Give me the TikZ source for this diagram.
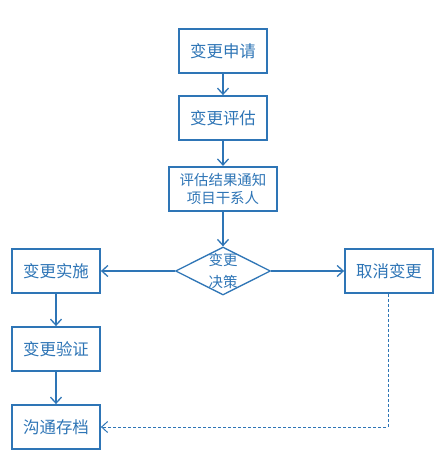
\documentclass[tikz,border=0pt]{standalone}
\usepackage{fontspec}
\setmainfont{Noto Sans CJK SC}
\usetikzlibrary{shapes.geometric,arrows.meta}
\definecolor{fc}{HTML}{2E75B6}
\begin{document}
\begin{tikzpicture}[x=1bp,y=-1bp,
  box/.style={draw=fc,line width=1.8bp,fill=white,text=fc,minimum width=88bp,minimum height=44bp,inner sep=0pt,font=\fontsize{16.5}{18}\selectfont},
  sbox/.style={draw=fc,line width=2.2bp,fill=white,text=fc,minimum width=108bp,minimum height=44bp,inner sep=0pt,align=center,font=\fontsize{14.5}{19}\selectfont},
  dec/.style={draw=fc,line width=1.3bp,fill=white,diamond,aspect=2,minimum width=95bp,minimum height=48bp,inner sep=0pt},
  conn/.style={draw=fc,line width=1.3bp,-{Straight Barb[length=6bp,width=11bp]}},
  dconn/.style={conn,dashed,dash pattern=on 3bp off 2bp,line width=1bp}]
\useasboundingbox (0,0) rectangle (440,457);
\node[box] (a) at (223,51) {变更申请};
\node[box] (b) at (223,118) {变更评估};
\node[sbox] (c) at (223,189) {评估结果通知\\项目干系人};
\node[dec] (d) at (223,271) {};
\node[text=fc,align=center,font=\fontsize{14.5}{22}\selectfont] (dt) at (223,271) {变更\\决策};
\node[box] (e) at (56,271) {变更实施};
\node[box] (f) at (389,271) {取消变更};
\node[box] (g) at (56,349) {变更验证};
\node[box] (h) at (56,427) {沟通存档};
\coordinate (k) at (388,427);
\draw[conn] (a) -- (b);
\draw[conn] (b) -- (c);
\draw[conn] (c) -- (d);
\draw[conn] (d) -- (e);
\draw[conn] (d) -- (f);
\draw[conn] (e) -- (g);
\draw[conn] (g) -- (h);
\draw[dconn] (f.south -| k) -- (k) -- (h);
\end{tikzpicture}
\end{document}
